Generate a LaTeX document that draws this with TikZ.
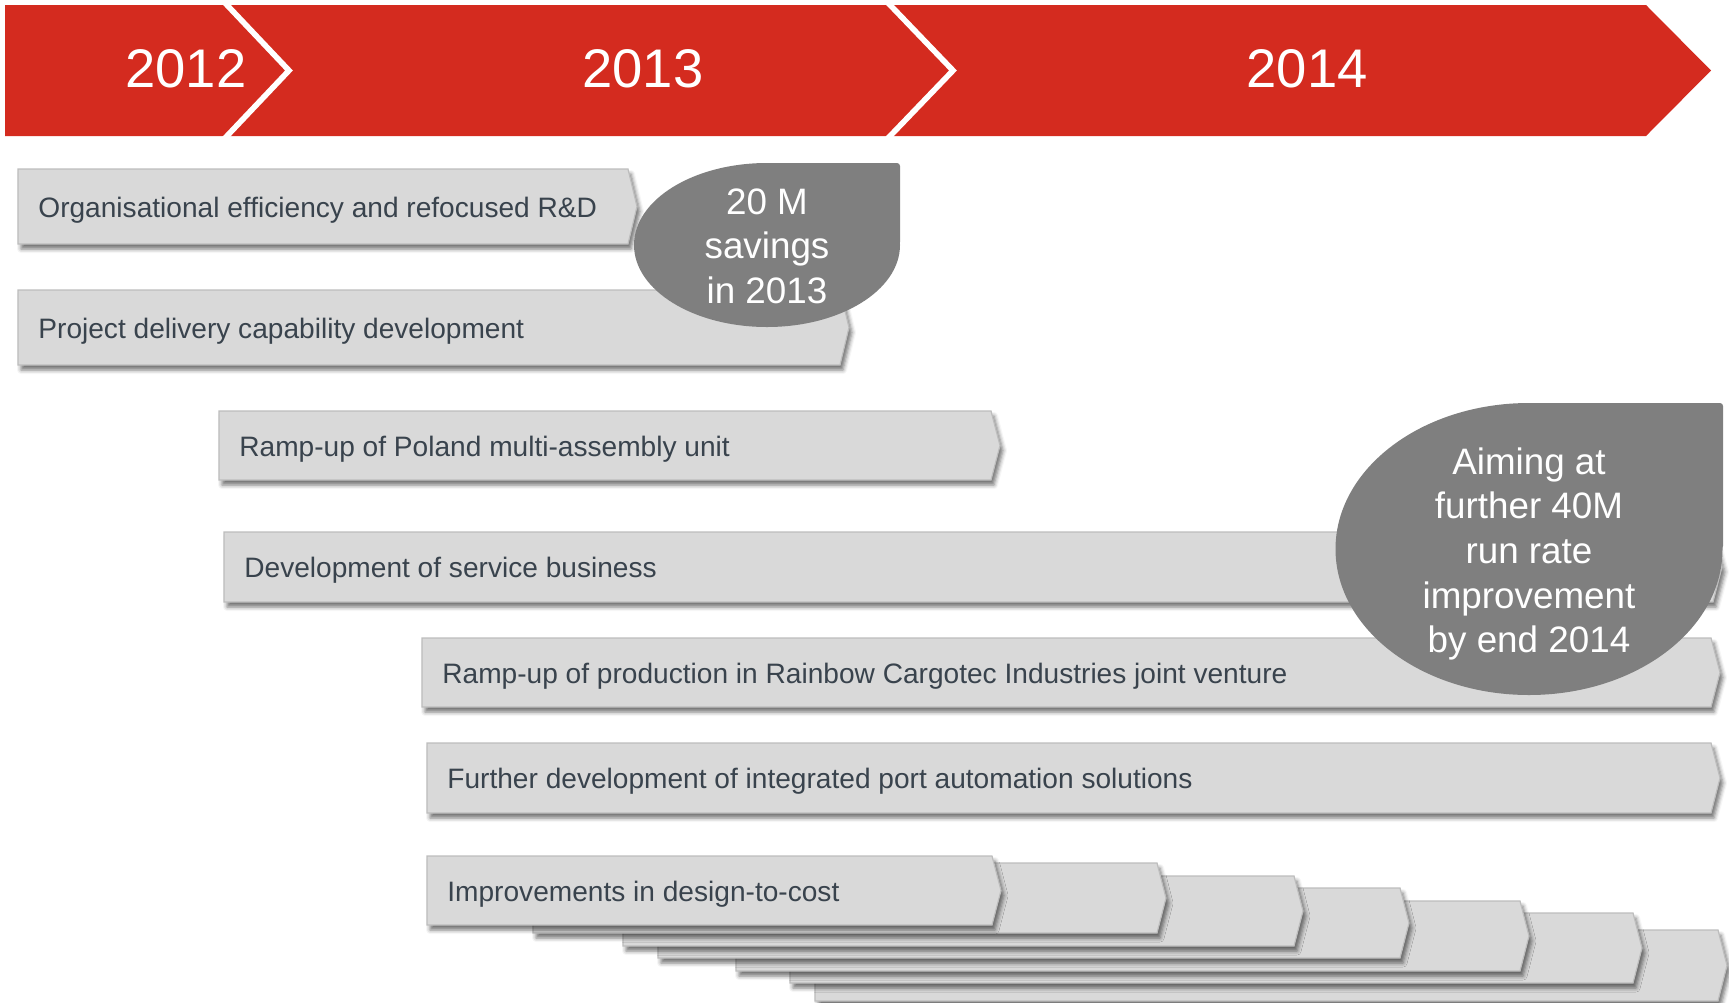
\documentclass[tikz,border=0pt]{standalone}
\usepackage{fontspec}
\setmainfont{Liberation Sans}
\usetikzlibrary{shadows.blur}
\definecolor{bannerred}{HTML}{D42B1F}
\definecolor{barfill}{HTML}{D9D9D9}
\definecolor{barline}{HTML}{BDBDBD}
\definecolor{bubblegray}{HTML}{7F7F7F}
\definecolor{bartextcol}{HTML}{39434D}
\tikzset{
  barstyle/.style={fill=barfill, draw=barline, line width=0.6pt,
    blur shadow={shadow xshift=1.5pt, shadow yshift=-2.5pt, shadow blur radius=2pt, shadow opacity=55}},
  bartext/.style={anchor=base west, inner sep=0pt, text=bartextcol, font=\fontsize{14.05}{17}\selectfont},
  yeartext/.style={anchor=base, inner sep=0pt, text=white, font=\fontsize{27.2}{31}\selectfont},
  bubbletext/.style={inner sep=0pt, text=white, align=center, font=\fontsize{18.4}{22.3}\selectfont},
}
% left, top, bottom, right corner
\newcommand{\chevbar}[4]{%
  \path[barstyle] (#1,#2) -- (#4,#2) -- ({#4+9},{(#2+#3)/2}) -- (#4,#3) -- (#1,#3) -- cycle;}

\begin{document}
\begin{tikzpicture}[x=0.5pt,y=-0.5pt]
\useasboundingbox (0,0) rectangle (1729,1002);

% year banner
\path[fill=bannerred] (5,5) -- (1646,5) -- (1711,70.5) -- (1646,136) -- (5,136) -- cycle;
\begin{scope}
\clip (5,5) rectangle (1729,136);
\draw[white, line width=2.8pt] (217.5,-5) -- (289,70.5) -- (217.5,146);
\draw[white, line width=2.8pt] (880.5,-5) -- (953,70.5) -- (880.5,146);
\end{scope}
\node[yeartext] (y2012) at (186,87) {2012};
\node[yeartext] (y2013) at (643,87) {2013};
\node[yeartext] (y2014) at (1307,87) {2014};

% programmes
\chevbar{18}{169}{244}{628}
\node[bartext] (orgeff) at (38,217) {Organisational efficiency and refocused R\&D};
\chevbar{18}{290}{365}{840}
\node[bartext] (projdel) at (38,338) {Project delivery capability development};
\chevbar{219}{411}{480}{991}
\node[bartext] (poland) at (239,456) {Ramp-up of Poland multi-assembly unit};
\chevbar{224}{532}{602}{1713}
\node[bartext] (service) at (244,577) {Development of service business};
\chevbar{422}{638}{707}{1711}
\node[bartext] (rainbow) at (442,683) {Ramp-up of production in Rainbow Cargotec Industries joint venture};
\chevbar{427}{743}{813}{1711}
\node[bartext] (portauto) at (447,788) {Further development of integrated port automation solutions};

% design-to-cost, back to front
\foreach \l/\t/\b/\r in {815/930/1001/1718, 790/913/983/1633, 736/901/971/1520,
  658/888/958/1400, 623/876/946/1294, 533/863/933/1157, 427/856/925/992}
  {\chevbar{\l}{\t}{\b}{\r}}
\node[bartext] (dtc) at (447,901) {Improvements in design-to-cost};

% savings bubbles
\fill[bubblegray, rounded corners=1.5pt] (767,245) rectangle (900,163);
\fill[bubblegray] (767,245) ellipse [x radius=66.5pt, y radius=41pt];
\node[bubbletext] (save13) at (767,246) {20 M\\savings\\in 2013};
\fill[bubblegray, rounded corners=1.5pt] (1529,549) rectangle (1723,403);
\fill[bubblegray] (1529,549) ellipse [x radius=96.75pt, y radius=73pt];
\node[bubbletext] (aim14) at (1529,554) {Aiming at\\further 40M\\run rate\\improvement\\by end 2014};
\end{tikzpicture}
\end{document}
